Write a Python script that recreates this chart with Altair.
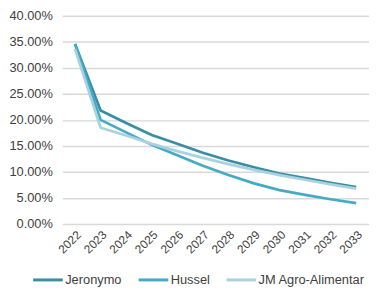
import altair as alt
import pandas as pd

years = [str(y) for y in range(2022, 2034)]
jeronymo = [34.6, 21.8, 19.4, 17.1, 15.4, 13.7, 12.2, 10.9, 9.7, 8.8, 7.9, 7.1]
hussel = [34.6, 20.0, 17.6, 15.2, 13.2, 11.2, 9.4, 7.8, 6.5, 5.6, 4.75, 4.0]
jm_agro = [33.6, 18.5, 17.0, 15.4, 14.0, 12.7, 11.5, 10.4, 9.4, 8.5, 7.6, 6.8]

series = {"Jeronymo": jeronymo, "Hussel": hussel, "JM Agro-Alimentar": jm_agro}
rows = []
for name, vals in series.items():
    for y, v in zip(years, vals):
        rows.append({"Year": y, "Series": name, "Value": v / 100})
df = pd.DataFrame(rows)

names = list(series.keys())
colors = ["#3a8ea3", "#45aac6", "#a8d2df"]
font = "Liberation Sans"
txt = "#404040"

chart = alt.Chart(df).mark_line(strokeWidth=2.75).encode(
    x=alt.X("Year:N", sort=years, title=None,
            scale=alt.Scale(type="point", padding=0.5),
            axis=alt.Axis(labelAngle=-45, ticks=False, domain=False, grid=False,
                          labelFont=font, labelFontSize=12, labelColor=txt,
                          labelPadding=5)),
    y=alt.Y("Value:Q", title=None,
            scale=alt.Scale(domain=[0, 0.4]),
            axis=alt.Axis(format=".2%", values=[0, 0.05, 0.1, 0.15, 0.2, 0.25, 0.3, 0.35, 0.4],
                          ticks=False, domain=False, gridColor="#d9d9d9", gridWidth=1.5,
                          labelFont=font, labelFontSize=13, labelColor=txt, labelPadding=10)),
    color=alt.Color("Series:N", sort=names,
                    scale=alt.Scale(domain=names, range=colors),
                    legend=alt.Legend(orient="none", legendX=-31, legendY=251,
                                      title=None, direction="horizontal",
                                      symbolType="stroke", symbolSize=900, symbolStrokeWidth=3,
                                      labelFont=font, labelFontSize=13, labelColor=txt,
                                      labelOffset=1, columnPadding=10)),
    order=alt.Order("Year:N"),
).properties(
    width=311, height=211,
    padding={"left": 0, "top": 0, "right": 0, "bottom": 0},
).configure_view(stroke=None)

chart.save("out.html", embed_options={"renderer": "svg", "actions": False})
